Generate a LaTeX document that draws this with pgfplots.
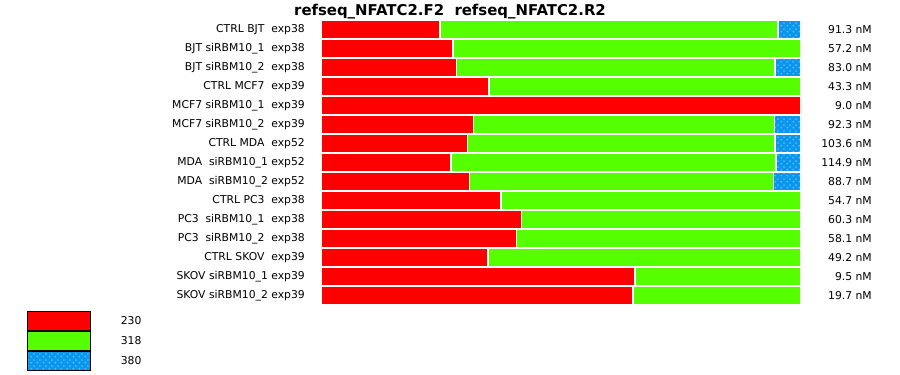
\documentclass[border=0pt]{standalone}
\usepackage{fontspec}
\setmainfont{DejaVu Sans}
\usepackage{pgfplots}
\pgfplotsset{compat=1.18}
\usetikzlibrary{patterns}
\definecolor{cred}{RGB}{255,0,0}
\definecolor{cgreen}{RGB}{85,255,0}
\definecolor{cblue}{RGB}{10,150,235}
\definecolor{cdots}{RGB}{75,188,255}
\pgfdeclarepatternformonly{bluedots}{\pgfpointorigin}{\pgfpoint{6bp}{6bp}}{\pgfpoint{6bp}{6bp}}{%
  \pgfpathcircle{\pgfpoint{1.5bp}{1.5bp}}{1.2bp}%
  \pgfpathcircle{\pgfpoint{4.5bp}{4.5bp}}{1.2bp}%
  \pgfusepath{fill}}
\newcommand{\lf}{\fontsize{10.8bp}{12bp}\selectfont}
\begin{document}
\begin{tikzpicture}
\useasboundingbox (0,0) rectangle (900bp,-375bp);
\begin{axis}[
  at={(321bp,-20bp)}, anchor=north west,
  scale only axis, width=480bp, height=285bp,
  xbar stacked, bar width=0.947,
  xmin=0, xmax=100, ymin=-0.5, ymax=14.5, y dir=reverse,
  enlargelimits=false,
  axis line style={draw=none}, tick style={draw=none},
  xtick=\empty,
  ytick={0,...,14},
  yticklabels={CTRL BJT\ \ exp38, BJT siRBM10\_1\ \ exp38, BJT siRBM10\_2\ \ exp38,
    CTRL MCF7\ \ exp39, MCF7 siRBM10\_1\ \ exp39, MCF7 siRBM10\_2\ \ exp39,
    CTRL MDA\ \ exp52, MDA\ \ siRBM10\_1 exp52, MDA\ \ siRBM10\_2 exp52,
    CTRL PC3\ \ exp38, PC3\ \ siRBM10\_1\ \ exp38, PC3\ \ siRBM10\_2\ \ exp38,
    CTRL SKOV\ \ exp39, SKOV siRBM10\_1 exp39, SKOV siRBM10\_2 exp39},
  yticklabel style={font=\lf, anchor=east, inner sep=0pt, xshift=-16bp},
  title={refseq\_NFATC2.F2\ \ refseq\_NFATC2.R2},
  title style={font=\fontsize{14.9bp}{16bp}\selectfont\bfseries, at={(0.26875,1)}, anchor=base, inner sep=0pt, yshift=-1.02pt},
  legend image code/.code={%
    \draw[#1, draw=black, line width=1bp] (0bp,-9.2bp) rectangle (63bp,9.8bp);
    \path (93bp,0.3bp);},
  legend style={at={(-0.6135,-0.0193)}, anchor=north west, draw=none, fill=none,
    inner sep=0pt, row sep=0pt, font=\lf,
    nodes={inner sep=0pt}},
  legend cell align=left,
]
\addplot[fill=cred, draw=white, line width=1.2bp] coordinates {
 (24.8,0) (27.5,1) (28.3,2) (35.0,3) (100,4) (31.7,5) (30.6,6) (27.1,7)
 (31.0,8) (37.5,9) (41.7,10) (40.8,11) (34.8,12) (65.4,13) (65.0,14)};
\addlegendentry{230}
\addplot[fill=cgreen, draw=white, line width=1.2bp] coordinates {
 (70.4,0) (72.5,1) (66.3,2) (65.0,3) (0,4) (62.7,5) (64.0,6) (67.7,7)
 (63.3,8) (62.5,9) (58.3,10) (59.2,11) (65.2,12) (34.6,13) (35.0,14)};
\addlegendentry{318}
\addplot[fill=cblue, postaction={pattern=bluedots, pattern color=cdots}, draw=white, line width=1.2bp] coordinates {
 (4.8,0) (0,1) (5.4,2) (0,3) (0,4) (5.6,5) (5.4,6) (5.2,7)
 (5.7,8) (0,9) (0,10) (0,11) (0,12) (0,13) (0,14)};
\addlegendentry{380}
\end{axis}
\begin{axis}[
  at={(321bp,-20bp)}, anchor=north west,
  scale only axis, width=480bp, height=285bp,
  xmin=0, xmax=100, ymin=-0.5, ymax=14.5, y dir=reverse,
  axis line style={draw=none}, tick style={draw=none},
  xtick=\empty, ytick={0,...,14}, yticklabel pos=right,
  yticklabels={91.3 nM, 57.2 nM, 83.0 nM, 43.3 nM, 9.0 nM, 92.3 nM, 103.6 nM,
    114.9 nM, 88.7 nM, 54.7 nM, 60.3 nM, 58.1 nM, 49.2 nM, 9.5 nM, 19.7 nM},
  yticklabel style={font=\lf, anchor=east, inner sep=0pt, xshift=71bp},
]
\end{axis}
\end{tikzpicture}
\end{document}
